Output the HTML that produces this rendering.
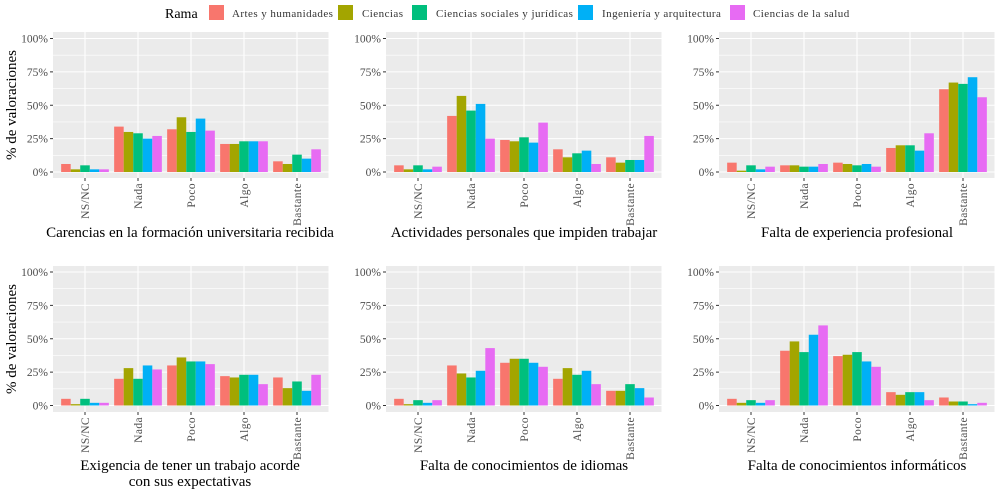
<!DOCTYPE html>
<html><head><meta charset="utf-8"><style>
html,body{margin:0;padding:0;background:#fff;}
svg{display:block;font-family:"Liberation Serif",serif;}
</style></head><body>
<svg id="s" width="1000" height="494" viewBox="0 0 1000 494" xmlns="http://www.w3.org/2000/svg">
<text x="165" y="18" font-size="14" fill="#000">Rama</text>
<rect x="209" y="5" width="15" height="15" fill="#F8766D"/><text x="232" y="17" font-size="11" letter-spacing="0.45" fill="#333">Artes y humanidades</text>
<rect x="338" y="5" width="15" height="15" fill="#A3A500"/><text x="362" y="17" font-size="11" letter-spacing="0.45" fill="#333">Ciencias</text>
<rect x="412" y="5" width="15" height="15" fill="#00BF7D"/><text x="436" y="17" font-size="11" letter-spacing="0.45" fill="#333">Ciencias sociales y jurídicas</text>
<rect x="578" y="5" width="15" height="15" fill="#00B0F6"/><text x="602" y="17" font-size="11" letter-spacing="0.45" fill="#333">Ingeniería y arquitectura</text>
<rect x="730" y="5" width="15" height="15" fill="#E76BF3"/><text x="753" y="17" font-size="11" letter-spacing="0.45" fill="#333">Ciencias de la salud</text>
<text transform="translate(16,105) rotate(-90)" text-anchor="middle" font-size="15" fill="#000">% de valoraciones</text>
<text transform="translate(16,339) rotate(-90)" text-anchor="middle" font-size="15" fill="#000">% de valoraciones</text>
<text x="190" y="237" text-anchor="middle" font-size="15">Carencias en la formación universitaria recibida</text>
<text x="524" y="237" text-anchor="middle" font-size="15">Actividades personales que impiden trabajar</text>
<text x="857" y="237" text-anchor="middle" font-size="15">Falta de experiencia profesional</text>
<text x="190" y="470" text-anchor="middle" font-size="15">Exigencia de tener un trabajo acorde</text>
<text x="190" y="486" text-anchor="middle" font-size="15">con sus expectativas</text>
<text x="524" y="470" text-anchor="middle" font-size="15">Falta de conocimientos de idiomas</text>
<text x="857" y="470" text-anchor="middle" font-size="15">Falta de conocimientos informáticos</text>
<g id="g"></g>
</svg>
<script>
var cols=["#F8766D","#A3A500","#00BF7D","#00B0F6","#E76BF3"];
var cats=["NS/NC","Nada","Poco","Algo","Bastante"];
var data=[
[[6,2,5,2,2],[34,30,29,25,27],[32,41,30,40,31],[21,21,23,23,23],[8,6,13,10,17]],
[[5,2,5,2,4],[42,57,46,51,25],[24,23,26,22,37],[17,11,14,16,6],[11,7,9,9,27]],
[[7,1,5,2,4],[5,5,4,4,6],[7,6,5,6,4],[18,20,20,16,29],[62,67,66,71,56]],
[[5,1,5,2,2],[20,28,20,30,27],[30,36,33,33,31],[22,21,23,23,16],[21,13,18,11,23]],
[[5,1,4,2,4],[30,24,21,26,43],[32,35,35,32,29],[20,28,23,26,16],[11,11,16,13,6]],
[[5,2,4,2,4],[41,48,40,53,60],[37,38,40,33,29],[10,8,10,10,4],[6,3,3,1,2]]];
var h="";
for(var p=0;p<6;p++){
 var r=Math.floor(p/3),c=p%3;
 var x0=53+c*333,x1=x0+275.5,yt=32+r*234,yb=yt+146;
 var z=172+r*233.5,s=1.335;
 h+='<rect x="'+x0+'" y="'+yt+'" width="'+(x1-x0)+'" height="146" fill="#EBEBEB"/>';
 for(var k=0;k<4;k++){var y=z-(k*25+12.5)*s;h+='<line x1="'+x0+'" x2="'+x1+'" y1="'+y+'" y2="'+y+'" stroke="#fff" stroke-width="0.6"/>';}
 for(var k=0;k<5;k++){var y=z-k*25*s;h+='<line x1="'+x0+'" x2="'+x1+'" y1="'+y+'" y2="'+y+'" stroke="#fff" stroke-width="1.1"/>';
  h+='<line x1="'+(x0-3)+'" x2="'+x0+'" y1="'+y+'" y2="'+y+'" stroke="#333" stroke-width="1"/>';
  h+='<text x="'+(x0-5)+'" y="'+(y+4)+'" text-anchor="end" font-size="11.5" fill="#4d4d4d">'+(k*25)+'%</text>';}
 for(var i=0;i<5;i++){var cx=x0+32+i*53;
  h+='<line x1="'+cx+'" x2="'+cx+'" y1="'+yt+'" y2="'+yb+'" stroke="#fff" stroke-width="1.1"/>';
  h+='<line x1="'+cx+'" x2="'+cx+'" y1="'+yb+'" y2="'+(yb+3)+'" stroke="#333" stroke-width="1"/>';
  h+='<text transform="translate('+(cx+4)+','+(yb+5)+') rotate(-90)" text-anchor="end" font-size="11.5" letter-spacing="0.4" fill="#4d4d4d">'+cats[i]+'</text>';
  for(var j=0;j<5;j++){var v=data[p][i][j],bx=cx-23.85+j*9.54;
   h+='<rect x="'+bx+'" y="'+(z-v*s)+'" width="9.54" height="'+(v*s)+'" fill="'+cols[j]+'"/>';}
 }
}
document.getElementById("g").innerHTML=h;
</script>
</body></html>
